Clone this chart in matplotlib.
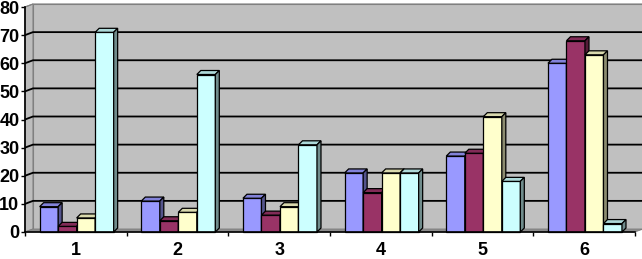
import matplotlib
matplotlib.use("Agg")
import matplotlib.pyplot as plt
from matplotlib.patches import Polygon
import matplotlib.colors as mcolors
import numpy as np

# ---- data ----
categories = ["1", "2", "3", "4", "5", "6"]
series_a = [9, 11, 12, 21, 27, 60]
series_b = [2, 4, 6, 14, 28, 68]
series_c = [5, 7, 9, 21, 41, 63]
series_d = [71, 56, 31, 21, 18, 3]
y_ticks = [0, 10, 20, 30, 40, 50, 60, 70, 80]

series = [series_a, series_b, series_c, series_d]
colors = ["#9999FF", "#993366", "#FFFFCC", "#CCFFFF"]

plt.rcParams['font.family'] = ['Liberation Sans', 'DejaVu Sans']

W, H = 642, 259
fig = plt.figure(figsize=(W / 100, H / 100), dpi=100)
fig.patch.set_facecolor("white")

left_px, right_px, zero_px, top_px = 25, 635, 232, 7
ax = fig.add_axes([left_px / W, (H - zero_px) / H,
                   (right_px - left_px) / W, (zero_px - top_px) / H])
n = len(categories)
ax.set_xlim(0, n)
ax.set_ylim(0, 80)
ax.patch.set_visible(False)

ppx = (right_px - left_px) / n
ppy = (zero_px - top_px) / 80.0
wdx, wdy = 8 / ppx, 3 / ppy      # wall depth
bdx, bdy = 4 / ppx, 4 / ppy      # bar depth

# walls and floor
wall = Polygon([(wdx, wdy), (n + wdx, wdy), (n + wdx, 80 + wdy), (wdx, 80 + wdy)],
               closed=True, facecolor="#C0C0C0", edgecolor="#808080", lw=0.8,
               clip_on=False, zorder=1)
ax.add_patch(wall)
side_wall = Polygon([(0, 0), (wdx, wdy), (wdx, 80 + wdy), (0, 80)], closed=True,
                    facecolor="#BDBDBD", edgecolor="#808080", lw=0.8,
                    clip_on=False, zorder=1)
ax.add_patch(side_wall)
floor = Polygon([(0, 0), (n, 0), (n + wdx, wdy), (wdx, wdy)], closed=True,
                facecolor="#8C8C8C", edgecolor="#808080", lw=0.6,
                clip_on=False, zorder=2)
ax.add_patch(floor)

for v in y_ticks[1:-1]:
    ax.plot([0, wdx, n + wdx], [v, v + wdy, v + wdy], color="black", lw=1.3,
            clip_on=False, zorder=3, solid_capstyle="butt")
ax.plot([0, wdx, n + wdx], [80, 80 + wdy, 80 + wdy], color="#808080", lw=0.8,
        clip_on=False, zorder=3)

# bars
bw = 0.182
start = 0.144
x_base = np.arange(n)


def shade(c, f):
    r, g, b = mcolors.to_rgb(c)
    return (r * f, g * f, b * f)


for k, (vals, col) in enumerate(zip(series, colors)):
    xs = x_base + start + k * bw
    z = 10 + 3 * k
    ax.bar(xs, vals, width=bw, align="edge", color=col, edgecolor="black",
           lw=0.9, zorder=z, clip_on=False)
    for x0, v in zip(xs, vals):
        top = Polygon([(x0, v), (x0 + bw, v), (x0 + bw + bdx, v + bdy), (x0 + bdx, v + bdy)],
                      closed=True, facecolor=shade(col, 0.85), edgecolor="black",
                      lw=0.9, zorder=z + 1, clip_on=False)
        side = Polygon([(x0 + bw, 0), (x0 + bw + bdx, bdy), (x0 + bw + bdx, v + bdy), (x0 + bw, v)],
                       closed=True, facecolor=shade(col, 0.55), edgecolor="black",
                       lw=0.9, zorder=z + 1, clip_on=False)
        ax.add_patch(top)
        ax.add_patch(side)

# axes
for s in ["top", "right"]:
    ax.spines[s].set_visible(False)
for s in ["left", "bottom"]:
    ax.spines[s].set_color("black")
    ax.spines[s].set_linewidth(1.2)
    ax.spines[s].set_zorder(50)

ax.set_yticks(y_ticks)
ax.set_yticklabels([str(t) for t in y_ticks], fontsize=13, fontweight="bold")
ax.tick_params(axis="y", length=3, width=1, pad=1, colors="black")

ax.set_xticks(np.arange(n + 1))
ax.set_xticklabels([])
ax.tick_params(axis="x", which="major", length=3, width=1, direction="out")
ax.set_xticks(x_base + 0.5, minor=True)
ax.set_xticklabels(categories, minor=True, fontsize=13, fontweight="bold")
ax.tick_params(axis="x", which="minor", length=0, pad=7)

fig.savefig("out.png", dpi=100)
